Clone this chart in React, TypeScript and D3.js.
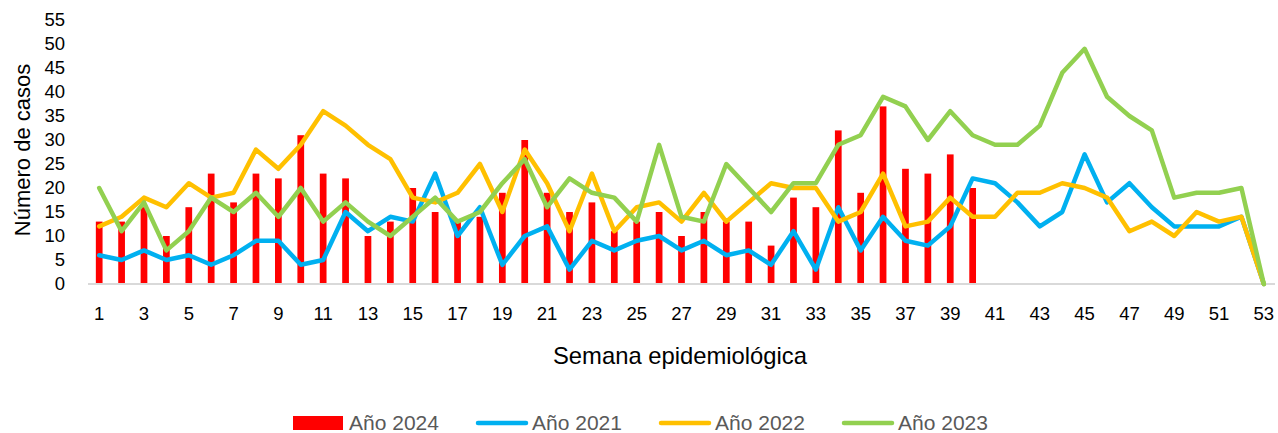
import React, { useEffect, useRef } from 'react';
import * as d3 from 'd3';

const weeks = d3.range(1, 54);
const tickWeeks = weeks.filter(w => w % 2 === 1);
const yTicks = [0, 5, 10, 15, 20, 25, 30, 35, 40, 45, 50, 55];

// Año 2024 (bars, weeks 1-40)
const cases2024 = [13, 13, 16, 10, 16, 23, 17, 23, 22, 31, 23, 22, 10, 13, 20, 15, 13, 14, 19, 30,
  19, 15, 17, 11, 13, 15, 10, 15, 13, 13, 8, 18, 16, 32, 19, 37, 24, 23, 27, 20];
const cases2021 = [6, 5, 7, 5, 6, 4, 6, 9, 9, 4, 5, 15, 11, 14, 13, 23, 10, 16, 4, 10,
  12, 3, 9, 7, 9, 10, 7, 9, 6, 7, 4, 11, 3, 16, 7, 14, 9, 8, 12, 22,
  21, 17, 12, 15, 27, 17, 21, 16, 12, 12, 12, 14, 0];
const cases2022 = [12, 14, 18, 16, 21, 18, 19, 28, 24, 29, 36, 33, 29, 26, 18, 17, 19, 25, 15, 28,
  21, 11, 23, 11, 16, 17, 13, 19, 13, 17, 21, 20, 20, 13, 15, 23, 12, 13, 18, 14,
  14, 19, 19, 21, 20, 18, 11, 13, 10, 15, 13, 14, 0];
const cases2023 = [20, 11, 17, 7, 11, 18, 15, 19, 14, 20, 13, 17, 13, 10, 14, 18, 13, 15, 21, 26,
  16, 22, 19, 18, 13, 29, 14, 13, 25, 20, 15, 21, 21, 29, 31, 39, 37, 30, 36, 31,
  29, 29, 33, 44, 49, 39, 35, 32, 18, 19, 19, 20, 0];

const lineSeries = [
  { name: 'Año 2021', values: cases2021, color: '#00B0F0' },
  { name: 'Año 2022', values: cases2022, color: '#FFC000' },
  { name: 'Año 2023', values: cases2023, color: '#92D050' },
];

const font = "'Liberation Sans', Arial, sans-serif";

const App = () => {
  const svgRef = useRef<SVGSVGElement>(null);

  useEffect(() => {
    const svg = d3.select(svgRef.current);
    svg.selectAll('*').remove();

    const x = d3.scalePoint<number>().domain(weeks).range([88, 1275]).padding(0.5);
    const step = x.step();
    const y = d3.scaleLinear().domain([0, 55]).range([284, 20]);

    // bars
    svg.append('g')
      .attr('fill', '#FF0000')
      .selectAll('rect')
      .data(cases2024)
      .join('rect')
      .attr('x', (d, i) => x(i + 1)! - step * 0.15)
      .attr('width', step * 0.3)
      .attr('y', d => y(d))
      .attr('height', d => y(0) - y(d));

    // axis line
    svg.append('line')
      .attr('x1', 88).attr('x2', 1275)
      .attr('y1', y(0)).attr('y2', y(0))
      .attr('stroke', '#D9D9D9').attr('stroke-width', 2);

    const line = d3.line<number>()
      .x((d, i) => x(i + 1)!)
      .y(d => y(d));

    lineSeries.forEach(s => {
      svg.append('path')
        .datum(s.values)
        .attr('d', line)
        .attr('fill', 'none')
        .attr('stroke', s.color)
        .attr('stroke-width', 4.5)
        .attr('stroke-linejoin', 'round')
        .attr('stroke-linecap', 'round');
    });

    // y ticks
    svg.append('g')
      .selectAll('text')
      .data(yTicks)
      .join('text')
      .attr('x', 65)
      .attr('y', d => y(d))
      .attr('dy', '0.35em')
      .attr('text-anchor', 'end')
      .style('font-family', font)
      .style('font-size', '18.5px')
      .attr('fill', '#000')
      .text(d => d);

    // x ticks
    svg.append('g')
      .selectAll('text')
      .data(tickWeeks)
      .join('text')
      .attr('x', d => x(d)!)
      .attr('y', 314)
      .attr('dy', '0.35em')
      .attr('text-anchor', 'middle')
      .style('font-family', font)
      .style('font-size', '18.5px')
      .attr('fill', '#000')
      .text(d => d);

    svg.append('text')
      .attr('x', 680).attr('y', 356)
      .attr('dy', '0.35em')
      .attr('text-anchor', 'middle')
      .style('font-family', font)
      .style('font-size', '23.8px')
      .text('Semana epidemiológica');

    svg.append('text')
      .attr('transform', 'translate(22,150) rotate(-90)')
      .attr('dy', '0.35em')
      .attr('text-anchor', 'middle')
      .style('font-family', font)
      .style('font-size', '22px')
      .text('Número de casos');

    // legend
    const lg = svg.append('g').attr('transform', 'translate(293,423)');
    lg.append('rect').attr('x', 0).attr('y', -7).attr('width', 50).attr('height', 14).attr('fill', '#FF0000');
    lg.append('text').attr('x', 56).attr('dy', '0.35em')
      .style('font-family', font).style('font-size', '21px').attr('fill', '#595959').text('Año 2024');
    lineSeries.forEach((s, i) => {
      const g = lg.append('g').attr('transform', `translate(${183 * (i + 1)},0)`);
      g.append('line').attr('x1', 2).attr('x2', 50).attr('y1', 0).attr('y2', 0)
        .attr('stroke', s.color).attr('stroke-width', 4.5).attr('stroke-linecap', 'round');
      g.append('text').attr('x', 56).attr('dy', '0.35em')
        .style('font-family', font).style('font-size', '21px').attr('fill', '#595959').text(s.name);
    });
  }, []);

  return (
    <svg ref={svgRef} width={1278} height={433}
      style={{ position: 'absolute', left: 0, top: 0, background: '#fff' }} />
  );
};

export default App;
